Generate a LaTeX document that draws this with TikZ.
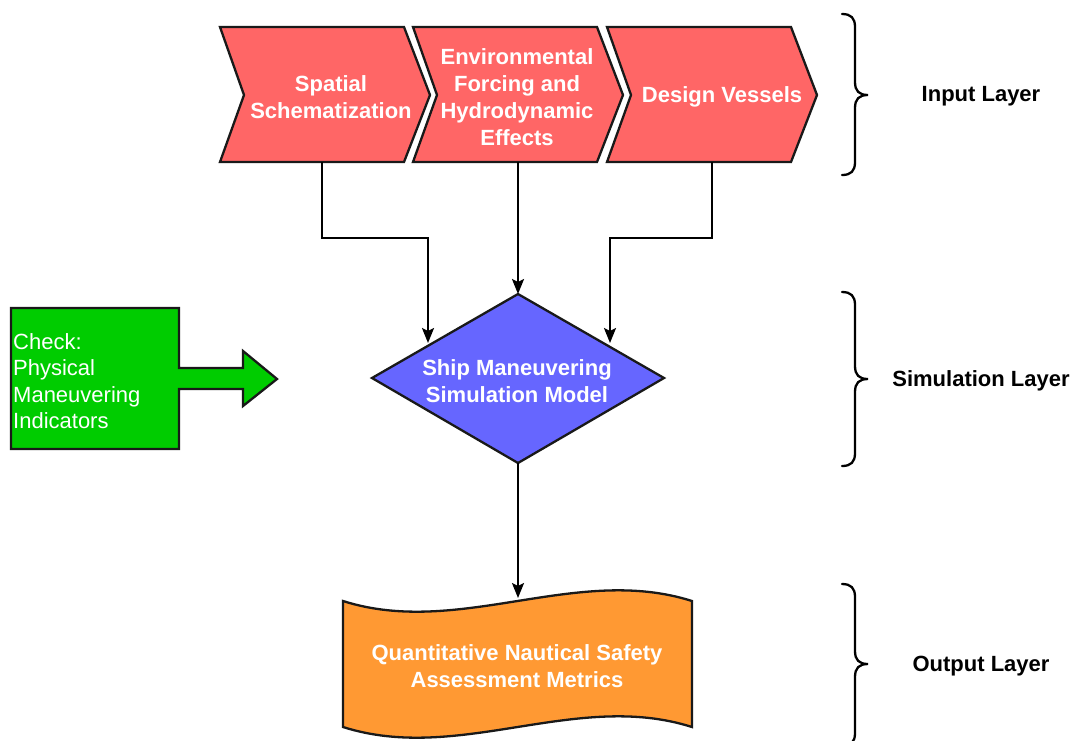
\documentclass[tikz,border=0pt]{standalone}
\usepackage{fontspec}
\setmainfont{Liberation Sans}
\usetikzlibrary{arrows.meta}
\definecolor{chevred}{HTML}{FF6666}
\definecolor{simblue}{HTML}{6666FF}
\definecolor{chkgreen}{HTML}{00CC00}
\definecolor{outorange}{HTML}{FF9933}
\tikzset{
  shapeline/.style={draw=black!90, line width=2.3pt, line join=miter},
  wtext/.style={text=white, font=\fontsize{22}{27}\selectfont\bfseries, align=center, inner sep=0pt},
  gtext/.style={text=white, font=\fontsize{22}{26.5}\selectfont, align=left, inner sep=0pt},
  ltext/.style={text=black, font=\fontsize{22}{27}\selectfont\bfseries, align=center, inner sep=0pt},
  conn/.style={draw=black, line width=2.3pt, -{Stealth[length=15pt,width=12pt,inset=3pt]}},
  brace/.style={draw=black, line width=2.3pt, line cap=round}
}
\begin{document}
\begin{tikzpicture}[x=1pt,y=-1pt]
\useasboundingbox (0,0) rectangle (1073,740);

% chevrons
\foreach \x in {220,413,607}{
  \path[shapeline, fill=chevred] (\x,27) -- (\x+184,27) -- (\x+210,95) -- (\x+184,162) -- (\x,162) -- (\x+24,95) -- cycle;
}
\node[wtext] (c1) at (331,97) {Spatial\\Schematization};
\node[wtext] (c2) at (517,97) {Environmental\\Forcing and\\Hydrodynamic\\Effects};
\node[wtext] (c3) at (722,97) {Design Vessels};

% diamond
\path[shapeline, fill=simblue] (518,294) -- (664,378) -- (518,463) -- (372,378) -- cycle;
\node[wtext] (sim) at (517,381) {Ship Maneuvering\\Simulation Model};

% document / tape
\path[shapeline, fill=outorange] (343,601) .. controls (459,638) and (576,564) .. (692,601)
  -- (692,727) .. controls (576,690) and (459,764) .. (343,727) -- cycle;
\node[wtext] (out) at (517,666) {Quantitative Nautical Safety\\Assessment Metrics};

% green callout
\path[shapeline, fill=chkgreen] (11,308) -- (179,308) -- (179,368) -- (243,368) -- (243,351) -- (277,379)
  -- (243,406) -- (243,389) -- (179,389) -- (179,449) -- (11,449) -- cycle;
\node[gtext, anchor=west] (chk) at (13,381) {Check:\\Physical\\Maneuvering\\Indicators};

% connector points
\coordinate (c1b) at (322,162);
\coordinate (c2b) at (518,162);
\coordinate (c3b) at (712,162);
\coordinate (simL) at (428,343);
\coordinate (simT) at (518,294);
\coordinate (simR) at (610,343);
\coordinate (simB) at (518,463);
\coordinate (outT) at (518,598);

\draw[conn] (c1b) |- (428,238) -- (simL);
\draw[conn] (c2b) -- (simT);
\draw[conn] (c3b) |- (610,238) -- (simR);
\draw[conn] (simB) -- (outT);

% braces
\foreach \a/\m/\b in {14/95/175, 292/379/466, 584/664/746}{
  \path[brace] (842,\a) .. controls (851,\a) and (855,\a+4) .. (855,\a+13)
    -- (855,\m-13) .. controls (855,\m-4) and (859,\m) .. (868,\m)
    .. controls (859,\m) and (855,\m+4) .. (855,\m+13)
    -- (855,\b-13) .. controls (855,\b-4) and (851,\b) .. (842,\b);
}
\node[ltext] (lin) at (981,96) {Input Layer};
\node[ltext] (lsim) at (981,381) {Simulation Layer};
\node[ltext] (lout) at (981,666) {Output Layer};
\end{tikzpicture}
\end{document}
